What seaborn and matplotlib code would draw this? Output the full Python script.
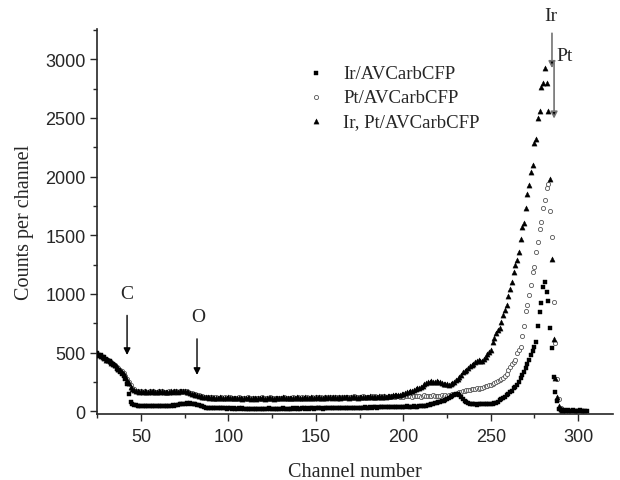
import numpy as np
import pandas as pd
import matplotlib
matplotlib.use('Agg')
import matplotlib.pyplot as plt
import seaborn as sns
from matplotlib.ticker import MultipleLocator

channels = list(range(25, 306))

# Ir/AVCarbCFP (squares), channel 25..305
ir_counts = [495, 482, 475, 465, 458, 445, 430, 425, 410, 398,
             385, 362, 350, 335, 318, 300, 275, 230, 150, 75,
             62, 55, 50, 48, 46, 45, 47, 44, 43, 45,
             42, 44, 41, 43, 40, 42, 44, 41, 43, 45,
             44, 47, 46, 49, 48, 52, 55, 57, 60, 62,
             64, 66, 65, 67, 64, 62, 58, 55, 50, 45,
             40, 35, 31, 28, 26, 25, 27, 24, 26, 23,
             25, 23, 26, 24, 22, 25, 23, 21, 24, 22,
             20, 23, 21, 24, 22, 20, 18, 21, 19, 22,
             20, 18, 21, 19, 22, 20, 18, 21, 23, 20,
             19, 22, 20, 21, 18, 20, 23, 21, 19, 22,
             20, 22, 24, 21, 23, 20, 22, 25, 23, 21,
             24, 22, 25, 23, 21, 24, 26, 23, 25, 22,
             25, 27, 24, 26, 28, 25, 27, 24, 26, 29,
             27, 25, 28, 26, 29, 27, 30, 28, 26, 29,
             31, 28, 30, 32, 29, 31, 33, 30, 32, 34,
             31, 33, 35, 32, 34, 36, 33, 35, 38, 36,
             36, 38, 35, 37, 39, 36, 38, 40, 37, 39,
             38, 40, 37, 39, 41, 40, 42, 45, 48, 52,
             56, 60, 64, 68, 72, 76, 80, 85, 90, 96,
             102, 110, 118, 126, 135, 145, 150, 140, 120, 100,
             88, 78, 70, 65, 62, 60, 58, 56, 59, 57,
             60, 58, 62, 59, 63, 61, 65, 68, 72, 78,
             96, 100, 110, 125, 135, 145, 160, 175, 195, 210,
             225, 250, 280, 305, 335, 370, 405, 440, 475, 510,
             550, 590, 730, 845, 920, 1060, 1100, 1020, 940, 706,
             536, 295, 167, 88, 20, 10, 8, 6, 5, 6,
             5, 4, 6, 5, 4, 5, 6, 4, 5, 3, 4]

# Pt/AVCarbCFP (open circles)
pt_counts = [485, 475, 468, 458, 450, 443, 436, 422, 415, 405,
             395, 380, 368, 355, 342, 322, 302, 278, 248, 220,
             200, 185, 175, 170, 166, 168, 163, 170, 165, 162,
             168, 163, 170, 165, 162, 168, 165, 170, 163, 167,
             164, 170, 166, 162, 169, 172, 165, 170, 174, 168,
             172, 168, 162, 158, 152, 148, 145, 142, 136, 132,
             126, 124, 121, 119, 122, 117, 120, 114, 118, 113,
             116, 120, 113, 117, 111, 115, 119, 112, 116, 110,
             114, 118, 111, 115, 109, 113, 117, 110, 114, 108,
             112, 116, 109, 113, 118, 111, 115, 109, 113, 117,
             110, 114, 108, 112, 116, 110, 114, 119, 112, 116,
             110, 114, 118, 112, 116, 120, 113, 117, 111, 115,
             119, 112, 116, 120, 114, 118, 122, 115, 119, 113,
             117, 121, 115, 119, 123, 116, 120, 124, 118, 122,
             116, 120, 125, 119, 123, 117, 121, 126, 120, 124,
             118, 122, 127, 121, 125, 119, 123, 128, 122, 126,
             120, 124, 129, 123, 127, 121, 125, 130, 124, 128,
             122, 126, 131, 125, 129, 123, 127, 132, 126, 130,
             124, 128, 133, 127, 131, 125, 129, 134, 128, 132,
             126, 130, 135, 129, 133, 127, 131, 136, 130, 134,
             132, 138, 142, 146, 143, 150, 155, 160, 165, 170,
             175, 180, 178, 184, 188, 186, 190, 195, 192, 198,
             200, 205, 211, 215, 220, 224, 230, 238, 245, 253,
             262, 270, 281, 300, 315, 352, 375, 400, 420, 437,
             493, 520, 550, 644, 724, 851, 902, 987, 1077, 1185,
             1225, 1361, 1446, 1553, 1616, 1735, 1796, 1900, 1935, 1707,
             1483, 928, 581, 275, 100, 30, 10, None, None, None,
             None, None, None, None, None, None, None, None, None, None, None]

# Ir, Pt/AVCarbCFP (filled triangles)
irpt_counts = [490, 478, 470, 460, 452, 440, 432, 425, 412, 402,
               390, 375, 362, 350, 335, 315, 295, 268, 240, 210,
               190, 178, 170, 168, 165, 170, 162, 168, 160, 165,
               170, 163, 168, 160, 166, 172, 164, 169, 161, 167,
               160, 165, 171, 163, 168, 174, 166, 170, 175, 168,
               172, 165, 160, 155, 150, 148, 140, 135, 130, 128,
               122, 125, 118, 120, 115, 118, 112, 116, 110, 114,
               118, 111, 115, 109, 113, 117, 110, 114, 108, 112,
               116, 109, 113, 107, 111, 115, 108, 112, 106, 110,
               114, 107, 111, 116, 109, 113, 107, 111, 115, 108,
               112, 106, 110, 114, 108, 112, 117, 110, 114, 108,
               112, 116, 110, 114, 118, 111, 115, 109, 113, 117,
               110, 114, 118, 112, 116, 120, 113, 117, 111, 115,
               119, 113, 117, 121, 114, 118, 122, 116, 120, 114,
               118, 123, 117, 121, 115, 119, 124, 118, 122, 116,
               120, 125, 119, 123, 117, 121, 126, 120, 124, 118,
               122, 127, 121, 125, 129, 123, 127, 132, 126, 135,
               140, 134, 142, 138, 148, 150, 156, 165, 160, 170,
               175, 180, 190, 195, 200, 210, 218, 228, 240, 245,
               250, 255, 248, 252, 258, 250, 245, 238, 230, 235,
               228, 222, 232, 240, 250, 262, 275, 290, 310, 330,
               340, 355, 368, 382, 395, 405, 418, 425, 432, 428,
               430, 445, 460, 485, 505, 522, 587, 620, 664, 690,
               706, 760, 820, 860, 905, 984, 1040, 1104, 1189, 1250,
               1290, 1359, 1466, 1571, 1607, 1732, 1851, 1925, 2039, 2096,
               2290, 2318, 2502, 2559, 2763, 2797, 2928, 2797, 2559, 1982,
               1300, 614, 286, 125, 40, 15, 8, None, None, None,
               None, None, None, None, None, None, None, None, None, None, None]

legend_labels = ['Ir/AVCarbCFP', 'Pt/AVCarbCFP', 'Ir, Pt/AVCarbCFP']

df = pd.DataFrame({'channel': channels,
                   'ir': pd.to_numeric(pd.Series(ir_counts), errors='coerce'),
                   'pt': pd.to_numeric(pd.Series(pt_counts), errors='coerce'),
                   'irpt': pd.to_numeric(pd.Series(irpt_counts), errors='coerce')})

sns.set_style('ticks')
serif = ['Liberation Serif', 'DejaVu Serif']
sans = ['Liberation Sans', 'DejaVu Sans']

fig = plt.figure(figsize=(6.2, 4.81), dpi=100)
ax = fig.add_axes([0.157, 0.137, 0.832, 0.800])

sns.scatterplot(data=df, x='channel', y='ir', marker='s', s=6, color='black',
                edgecolor='black', linewidth=0.3, label=legend_labels[0], ax=ax, zorder=3)
sns.scatterplot(data=df, x='channel', y='pt', marker='o', s=9, facecolor='white',
                edgecolor='#555555', linewidth=0.6, label=legend_labels[1], ax=ax, zorder=2)
sns.scatterplot(data=df, x='channel', y='irpt', marker='^', s=14, color='black',
                edgecolor='black', linewidth=0.3, label=legend_labels[2], ax=ax, zorder=4)

ax.set_xlim(25, 320)
ax.set_ylim(-25, 3255)
ax.xaxis.set_major_locator(MultipleLocator(50))
ax.xaxis.set_minor_locator(MultipleLocator(25))
ax.yaxis.set_major_locator(MultipleLocator(500))
ax.yaxis.set_minor_locator(MultipleLocator(250))
ax.tick_params(which='major', direction='out', length=5, width=1, labelsize=13)
ax.tick_params(axis='x', which='major', pad=5)
ax.tick_params(which='minor', direction='out', length=3, width=1)
for lab in ax.get_xticklabels() + ax.get_yticklabels():
    lab.set_fontfamily(sans)
sns.despine(ax=ax)
for sp in ['left', 'bottom']:
    ax.spines[sp].set_linewidth(1.2)

ax.set_xlabel('Channel number', fontfamily=serif, fontsize=14.5, labelpad=12)
ax.set_ylabel('Counts per channel', fontfamily=serif, fontsize=14.5, labelpad=8)

leg = ax.legend(loc='upper left', bbox_to_anchor=(0.373, 0.952), frameon=False,
                prop={'family': serif, 'size': 13.5}, handlelength=1.0,
                handletextpad=0.95, labelspacing=0.38, markerscale=1.0)

# element markers
ax.annotate('', xy=(42, 455), xytext=(42, 840),
            arrowprops=dict(arrowstyle='-|>', color='black', lw=1.0, mutation_scale=10))
ax.text(42, 1000, 'C', ha='center', va='center', fontfamily=serif, fontsize=14)
ax.annotate('', xy=(82, 285), xytext=(82, 640),
            arrowprops=dict(arrowstyle='-|>', color='black', lw=1.0, mutation_scale=10))
ax.text(82.5, 805, 'O', ha='center', va='center', fontfamily=serif, fontsize=14)
ax.annotate('', xy=(285, 2900), xytext=(285, 3245),
            arrowprops=dict(arrowstyle='-|>', edgecolor='0.45', facecolor='black', lw=1.2,
                            mutation_scale=10), annotation_clip=False)
ax.text(284.5, 3375, 'Ir', ha='center', va='center', fontfamily=serif, fontsize=14, clip_on=False)
ax.annotate('', xy=(286.2, 2470), xytext=(286.2, 2990),
            arrowprops=dict(arrowstyle='-|>', edgecolor='0.45', facecolor='black', lw=1.2,
                            mutation_scale=10))
ax.text(292, 3030, 'Pt', ha='center', va='center', fontfamily=serif, fontsize=14)

fig.savefig('out.png', dpi=100)
